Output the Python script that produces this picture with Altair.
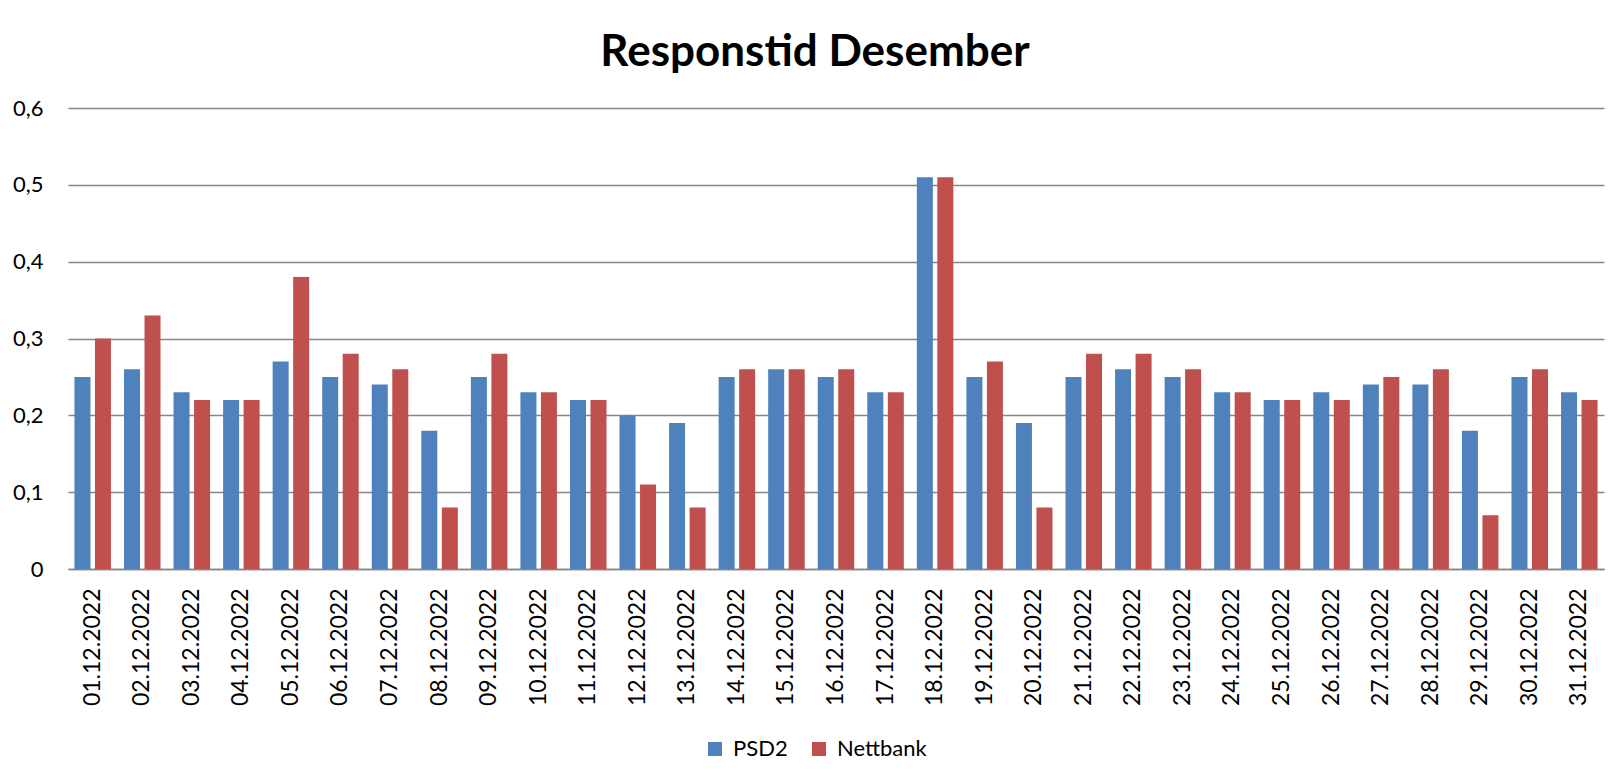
import altair as alt
import pandas as pd

dates = [f"{d:02d}.12.2022" for d in range(1, 32)]
psd2 = [0.25, 0.26, 0.23, 0.22, 0.27, 0.25, 0.24, 0.18, 0.25, 0.23, 0.22, 0.20, 0.19, 0.25, 0.26, 0.25,
        0.23, 0.51, 0.25, 0.19, 0.25, 0.26, 0.25, 0.23, 0.22, 0.23, 0.24, 0.24, 0.18, 0.25, 0.23]
nettbank = [0.30, 0.33, 0.22, 0.22, 0.38, 0.28, 0.26, 0.08, 0.28, 0.23, 0.22, 0.11, 0.08, 0.26, 0.26, 0.26,
            0.23, 0.51, 0.27, 0.08, 0.28, 0.28, 0.26, 0.23, 0.22, 0.22, 0.25, 0.26, 0.07, 0.26, 0.22]
series_names = ["PSD2", "Nettbank"]
series_colors = ["#4F81BD", "#C0504D"]
y_ticks = [0, 0.1, 0.2, 0.3, 0.4, 0.5, 0.6]

rows = []
for i, d in enumerate(dates):
    rows.append({"dato": d, "serie": "PSD2", "verdi": psd2[i]})
    rows.append({"dato": d, "serie": "Nettbank", "verdi": nettbank[i]})
df = pd.DataFrame(rows)

FONT = "Lato"

chart = alt.Chart(df).mark_bar().encode(
    x=alt.X("dato:N", sort=dates, title=None,
            scale=alt.Scale(paddingInner=0.263, paddingOuter=0.13),
            axis=alt.Axis(labelAngle=270, labelAlign="right", labelBaseline="middle",
                          labelPadding=19, ticks=False, domain=True, domainColor="#868686",
                          domainWidth=1.5, labelFont=FONT, labelFontSize=23, labelColor="#000000",
                          grid=False)),
    xOffset=alt.XOffset("serie:N", sort=series_names,
                        scale=alt.Scale(paddingInner=0.22, paddingOuter=0)),
    y=alt.Y("verdi:Q", title=None,
            scale=alt.Scale(domain=[0, 0.6], nice=False),
            axis=alt.Axis(values=y_ticks, labelExpr="replace(format(datum.value, '.1~f'), '.', ',')",
                          ticks=False, domain=False, grid=True, gridColor="#868686", gridWidth=1.5,
                          labelPadding=25, labelFont=FONT, labelFontSize=22, labelColor="#000000")),
    color=alt.Color("serie:N", sort=series_names,
                    scale=alt.Scale(domain=series_names, range=series_colors),
                    legend=alt.Legend(title=None, orient="none", direction="horizontal",
                                      legendX=636, legendY=630, symbolType="square",
                                      symbolSize=196, symbolStrokeWidth=0, labelFont=FONT,
                                      labelFontSize=22, labelColor="#000000", labelOffset=7,
                                      columnPadding=20, padding=0)),
).properties(
    width=1536,
    height=461,
    title=alt.TitleParams("Responstid Desember", font=FONT, fontSize=44, fontWeight="bold",
                          color="#000000", anchor="middle", dx=-21, offset=22),
    padding={"left": 60, "top": 100, "right": 8, "bottom": 195},
    autosize=alt.AutoSizeParams(type="none"),
).configure_view(stroke=None)

chart.save("out.html", embed_options={"renderer": "svg", "actions": False})
